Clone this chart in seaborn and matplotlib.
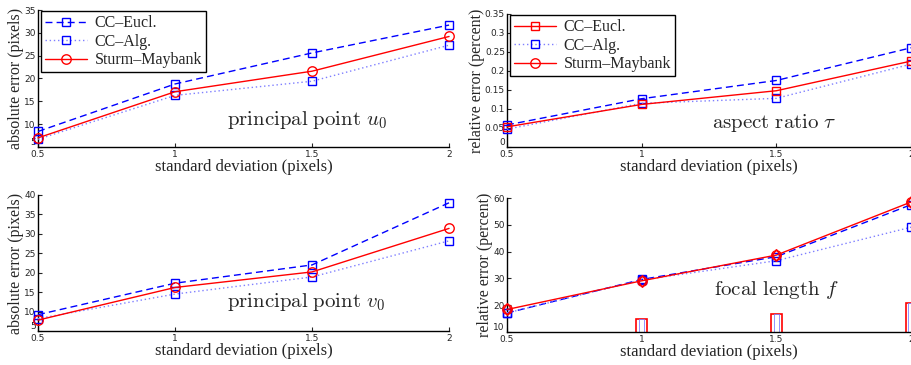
import numpy as np
import matplotlib
matplotlib.use('Agg')
import matplotlib.pyplot as plt
from matplotlib.lines import Line2D
from matplotlib.ticker import FuncFormatter
import seaborn as sns

# noise levels (x axis)
sigma = [0.5, 1.0, 1.5, 2.0]

# principal point u0 (absolute error, pixels)
u0_eucl = [8.4, 18.8, 25.6, 31.7]
u0_alg = [6.7, 16.3, 19.4, 27.3]
u0_sm = [7.0, 17.1, 21.6, 29.2]

# aspect ratio tau (relative error, percent)
tau_eucl = [0.058, 0.127, 0.175, 0.261]
tau_alg = [0.047, 0.115, 0.128, 0.218]
tau_sm = [0.053, 0.112, 0.148, 0.226]

# principal point v0 (absolute error, pixels)
v0_eucl = [9.2, 17.3, 22.0, 38.0]
v0_alg = [8.2, 14.5, 18.9, 28.2]
v0_sm = [7.8, 16.2, 20.2, 31.4]

# focal length f (relative error, percent)
f_eucl = [17.1, 29.6, 38.1, 57.5]
f_alg = [17.1, 29.4, 36.6, 49.1]
f_sm = [18.4, 29.1, 38.7, 58.5]
f_bar_x = [1.0, 1.5, 2.0]
f_bar_h = [15.0, 16.9, 20.9]

labels = ['CC\u2013Eucl.', 'CC\u2013Alg.', 'Sturm\u2013Maybank']

sns.set_style('ticks')
plt.rcParams['mathtext.fontset'] = 'cm'
plt.rcParams['font.family'] = ['Liberation Serif', 'DejaVu Serif']

BLUE = '#0000ff'
LIGHT = '#7f7fff'
RED = '#ff0000'
DASH = (0, (5, 3))
DOT = (0, (1, 2))
SQ = 5.5
CIRC = 6.8

fig = plt.figure(figsize=(9.12, 3.65), dpi=100)
ax_tl = fig.add_axes([0.0417, 0.5973, 0.4507, 0.3753])
ax_tr = fig.add_axes([0.5559, 0.5973, 0.4430, 0.3644])
ax_bl = fig.add_axes([0.0417, 0.0932, 0.4507, 0.3726])
ax_br = fig.add_axes([0.5559, 0.0904, 0.4430, 0.3671])


def draw(ax, y, color, ls, marker, ms=SQ, mec=None, label=None, lw=1.0):
    sns.lineplot(x=sigma, y=y, ax=ax, color=color, linestyle=ls, lw=lw,
                 marker=marker, markersize=ms, markerfacecolor='none',
                 markeredgecolor=mec or color, markeredgewidth=1.0,
                 label=label, legend=False, clip_on=False, zorder=3)


def style(ax, ylim, yticks, ylabel, note, note_xy):
    ax.set_xlim(0.5, 2)
    ax.set_ylim(*ylim)
    ax.set_xticks(sigma)
    ax.set_yticks(yticks)
    fmt = FuncFormatter(lambda v, _: f'{v:g}')
    ax.xaxis.set_major_formatter(fmt)
    ax.yaxis.set_major_formatter(fmt)
    ax.tick_params(direction='in', length=3, width=0.8, labelsize=6.5, pad=1.5)
    ax.tick_params(axis='x', pad=2.5)
    for t in ax.get_xticklabels() + ax.get_yticklabels():
        t.set_family('DejaVu Sans')
    ax.get_yticklabels()[0].set_va('bottom')
    ax.set_xlabel('standard deviation (pixels)', fontsize=12, labelpad=0)
    ax.set_ylabel(ylabel, fontsize=11.5, labelpad=0)
    for s in ['left', 'bottom']:
        ax.spines[s].set_linewidth(1.0)
        ax.spines[s].set_color('black')
    sns.despine(ax=ax)
    ax.text(note_xy[0], note_xy[1], note, fontsize=15, ha='left', va='center')
    ax.patch.set_alpha(0)


def legend(ax, handles):
    leg = ax.legend(handles=handles, labels=labels, loc='upper left',
                    bbox_to_anchor=(0.008, 0.99), fontsize=11.5, frameon=True,
                    fancybox=False, framealpha=1, edgecolor='black',
                    handlelength=2.6, handletextpad=0.5, borderpad=0.25,
                    labelspacing=0.15, borderaxespad=0)
    leg.get_frame().set_linewidth(1.0)


# top left: u0
draw(ax_tl, u0_eucl, BLUE, DASH, 's')
draw(ax_tl, u0_alg, LIGHT, DOT, 's', mec=BLUE)
draw(ax_tl, u0_sm, RED, '-', 'o', ms=CIRC)
style(ax_tl, (5, 35), range(5, 36, 5), 'absolute error (pixels)',
      r'$\mathrm{principal\ point}\ u_0$', (1.19, 11))
legend(ax_tl, ax_tl.get_lines()[:3])

# top right: tau
draw(ax_tr, tau_eucl, BLUE, DASH, 's')
draw(ax_tr, tau_alg, LIGHT, DOT, 's', mec=BLUE)
draw(ax_tr, tau_sm, RED, '-', 's')
style(ax_tr, (0, 0.35), np.arange(0, 0.351, 0.05), 'relative error (percent)',
      r'$\mathrm{aspect\ ratio}\ \tau$', (1.26, 0.063))
proxy = [Line2D([], [], color=RED, marker='s', ms=SQ, mfc='none', lw=1),
         Line2D([], [], color=LIGHT, ls=DOT, marker='s', ms=SQ, mfc='none', mec=BLUE, lw=1),
         Line2D([], [], color=RED, marker='o', ms=CIRC, mfc='none', lw=1)]
legend(ax_tr, proxy)

# bottom left: v0
draw(ax_bl, v0_eucl, BLUE, DASH, 's')
draw(ax_bl, v0_alg, LIGHT, DOT, 's', mec=BLUE)
draw(ax_bl, v0_sm, RED, '-', 'o', ms=CIRC)
style(ax_bl, (5, 40), range(5, 41, 5), 'absolute error (pixels)',
      r'$\mathrm{principal\ point}\ v_0$', (1.19, 12.5))

# bottom right: f
ax_br.bar(f_bar_x, f_bar_h, width=0.04, facecolor='white', edgecolor=RED,
          linewidth=1.2, zorder=2)
ax_br.bar(f_bar_x, f_bar_h, width=0.02, facecolor='none', edgecolor='#8080ff',
          linewidth=0.6, zorder=2)
draw(ax_br, f_eucl, BLUE, DASH, 's')
draw(ax_br, f_alg, LIGHT, DOT, 's', mec=BLUE)
draw(ax_br, f_sm, RED, '-', 'o', ms=CIRC)
draw(ax_br, f_sm, RED, 'none', 'd', ms=6.5)
style(ax_br, (10, 60), range(10, 61, 10), 'relative error (percent)',
      r'$\mathrm{focal\ length}\ f$', (1.27, 25.7))

fig.savefig('out.png', dpi=100)
